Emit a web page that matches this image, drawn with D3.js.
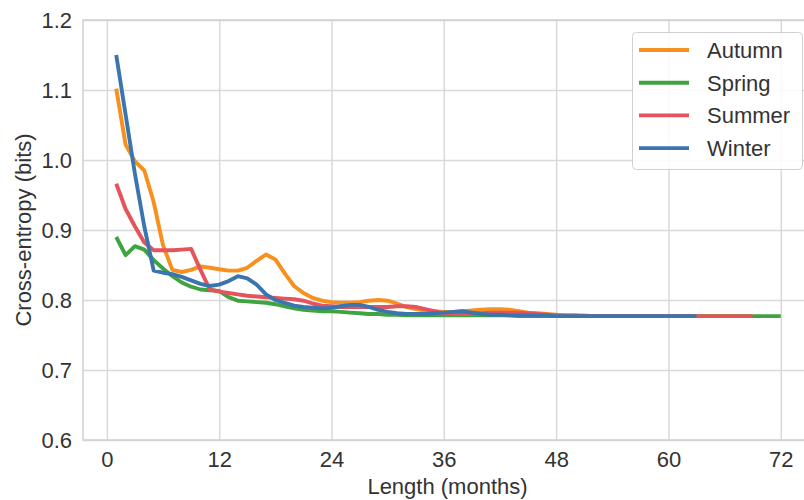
<!DOCTYPE html>
<html>
<head>
<meta charset="utf-8">
<script src="https://cdn.jsdelivr.net/npm/d3@7"></script>
<style>
  html, body { margin: 0; padding: 0; background: #ffffff; }
  svg { display: block; }
  text { font-family: "Liberation Sans", Arial, sans-serif; }
</style>
</head>
<body>
<svg id="chart" width="804" height="500"></svg>
<script>
// Cross-entropy by training length, one series per season (month index starts at 1)
const seasons = ["Autumn", "Spring", "Summer", "Winter"];
const seasonColors = ["#f7901e", "#3fa33f", "#e4545c", "#3b75af"];

const autumn = [1.102, 1.022, 0.998, 0.985, 0.940, 0.878, 0.843, 0.840, 0.843, 0.848,
  0.846, 0.844, 0.842, 0.842, 0.846, 0.856, 0.865, 0.858, 0.838, 0.820,
  0.810, 0.803, 0.799, 0.797, 0.796, 0.796, 0.797, 0.799, 0.800, 0.799,
  0.795, 0.790, 0.787, 0.785, 0.784, 0.783, 0.783, 0.784, 0.785, 0.786,
  0.787, 0.787, 0.786, 0.784, 0.782, 0.781, 0.780, 0.779, 0.778, 0.778,
  0.778, 0.777, 0.777, 0.777];

const spring = [0.890, 0.864, 0.877, 0.872, 0.857, 0.845, 0.834, 0.825, 0.819, 0.815,
  0.814, 0.813, 0.804, 0.799, 0.798, 0.797, 0.796, 0.794, 0.791, 0.788,
  0.786, 0.785, 0.784, 0.784, 0.783, 0.782, 0.781, 0.780, 0.780, 0.779,
  0.779, 0.778, 0.778, 0.778, 0.778, 0.778, 0.778, 0.778, 0.778, 0.778,
  0.778, 0.778, 0.778, 0.777, 0.777, 0.777, 0.777, 0.777, 0.777, 0.777,
  0.777, 0.777, 0.777, 0.777, 0.777, 0.777, 0.777, 0.777, 0.777, 0.777,
  0.777, 0.777, 0.777, 0.777, 0.777, 0.777, 0.777, 0.777, 0.777, 0.777,
  0.777, 0.777];

const summer = [0.966, 0.930, 0.905, 0.882, 0.871, 0.871, 0.871, 0.872, 0.873, 0.843,
  0.815, 0.812, 0.810, 0.808, 0.806, 0.805, 0.804, 0.803, 0.802, 0.801,
  0.799, 0.795, 0.792, 0.791, 0.790, 0.790, 0.790, 0.790, 0.790, 0.790,
  0.791, 0.791, 0.790, 0.787, 0.784, 0.781, 0.780, 0.780, 0.780, 0.781,
  0.782, 0.782, 0.782, 0.782, 0.781, 0.780, 0.779, 0.778, 0.778, 0.778,
  0.777, 0.777, 0.777, 0.777, 0.777, 0.777, 0.777, 0.777, 0.777, 0.777,
  0.777, 0.777, 0.777, 0.777, 0.777, 0.777, 0.777, 0.777, 0.777];

const winter = [1.150, 1.065, 0.980, 0.905, 0.842, 0.839, 0.837, 0.833, 0.828, 0.823,
  0.820, 0.822, 0.827, 0.834, 0.831, 0.822, 0.808, 0.800, 0.796, 0.792,
  0.790, 0.789, 0.788, 0.789, 0.791, 0.793, 0.793, 0.790, 0.786, 0.783,
  0.781, 0.780, 0.780, 0.780, 0.781, 0.782, 0.783, 0.784, 0.782, 0.780,
  0.779, 0.779, 0.778, 0.778, 0.778, 0.778, 0.778, 0.777, 0.777, 0.777,
  0.777, 0.777, 0.777, 0.777, 0.777, 0.777, 0.777, 0.777, 0.777, 0.777,
  0.777, 0.777, 0.777];

const xTicks = [0, 12, 24, 36, 48, 60, 72];
const yTicks = [0.6, 0.7, 0.8, 0.9, 1.0, 1.1, 1.2];

const seriesValues = [autumn, spring, summer, winter];

const svg = d3.select("#chart");
const plot = { left: 83, top: 20, right: 814, bottom: 440 };

const x = d3.scaleLinear().domain([-2.55, 75.55]).range([plot.left, plot.right]);
const y = d3.scaleLinear().domain([0.6, 1.2]).range([plot.bottom, plot.top]);

const gridColor = "#d9d9d9";
const textColor = "#333333";

// Grid lines
svg.append("g")
  .attr("transform", `translate(0,${plot.bottom})`)
  .call(d3.axisBottom(x).tickValues(xTicks).tickSize(-(plot.bottom - plot.top)).tickFormat(""))
  .call(g => g.select(".domain").remove())
  .call(g => g.selectAll("line").attr("stroke", gridColor).attr("stroke-width", 1.5));

svg.append("g")
  .attr("transform", `translate(${plot.left},0)`)
  .call(d3.axisLeft(y).tickValues(yTicks).tickSize(-(plot.right - plot.left)).tickFormat(""))
  .call(g => g.select(".domain").remove())
  .call(g => g.selectAll("line").attr("stroke", gridColor).attr("stroke-width", 1.5));

// Frame
svg.append("rect")
  .attr("x", plot.left).attr("y", plot.top)
  .attr("width", plot.right - plot.left).attr("height", plot.bottom - plot.top)
  .attr("fill", "none").attr("stroke", "#d0d0d0").attr("stroke-width", 1.5);

// Tick labels
svg.append("g")
  .attr("transform", `translate(0,${plot.bottom})`)
  .call(d3.axisBottom(x).tickValues(xTicks).tickSize(0).tickPadding(11).tickFormat(d3.format("d")))
  .call(g => g.select(".domain").remove())
  .call(g => g.selectAll("text")
    .attr("fill", textColor)
    .style("font-size", "22px")
    .style("font-family", "'Liberation Sans', Arial, sans-serif"));

svg.append("g")
  .attr("transform", `translate(${plot.left},0)`)
  .call(d3.axisLeft(y).tickValues(yTicks).tickSize(0).tickPadding(11).tickFormat(d3.format(".1f")))
  .call(g => g.select(".domain").remove())
  .call(g => g.selectAll("text")
    .attr("fill", textColor)
    .style("font-size", "22px")
    .style("font-family", "'Liberation Sans', Arial, sans-serif"));

// Axis titles
svg.append("text")
  .attr("x", (x(-2.55) + x(75.55)) / 2 - 1).attr("y", 494)
  .attr("text-anchor", "middle")
  .attr("fill", textColor)
  .style("font-size", "22px")
  .text("Length (months)");

svg.append("text")
  .attr("transform", `translate(31,${(plot.top + plot.bottom) / 2}) rotate(-90)`)
  .attr("text-anchor", "middle")
  .attr("fill", textColor)
  .style("font-size", "22px")
  .text("Cross-entropy (bits)");

// Series lines
const line = d3.line()
  .x((d, i) => x(i + 1))
  .y(d => y(d));

svg.append("g")
  .selectAll("path")
  .data(seriesValues)
  .join("path")
  .attr("d", line)
  .attr("fill", "none")
  .attr("stroke", (d, i) => seasonColors[i])
  .attr("stroke-width", 3.9)
  .attr("stroke-linejoin", "round")
  .attr("stroke-linecap", "butt");

// Legend
const legend = svg.append("g");
legend.append("rect")
  .attr("x", 632.5).attr("y", 32.5)
  .attr("width", 170).attr("height", 137)
  .attr("rx", 4)
  .attr("fill", "#ffffff").attr("fill-opacity", 0.85)
  .attr("stroke", "#d0d0d0").attr("stroke-width", 1);

const rows = legend.selectAll("g.row")
  .data(seasons)
  .join("g")
  .attr("class", "row")
  .attr("transform", (d, i) => `translate(0,${50 + i * 32.7})`);

rows.append("line")
  .attr("x1", 639).attr("x2", 689)
  .attr("y1", 0).attr("y2", 0)
  .attr("stroke", (d, i) => seasonColors[i])
  .attr("stroke-width", 3.9);

rows.append("text")
  .attr("x", 707).attr("y", 0).attr("dy", "0.36em")
  .attr("fill", textColor)
  .style("font-size", "22px")
  .text(d => d);
</script>
</body>
</html>
